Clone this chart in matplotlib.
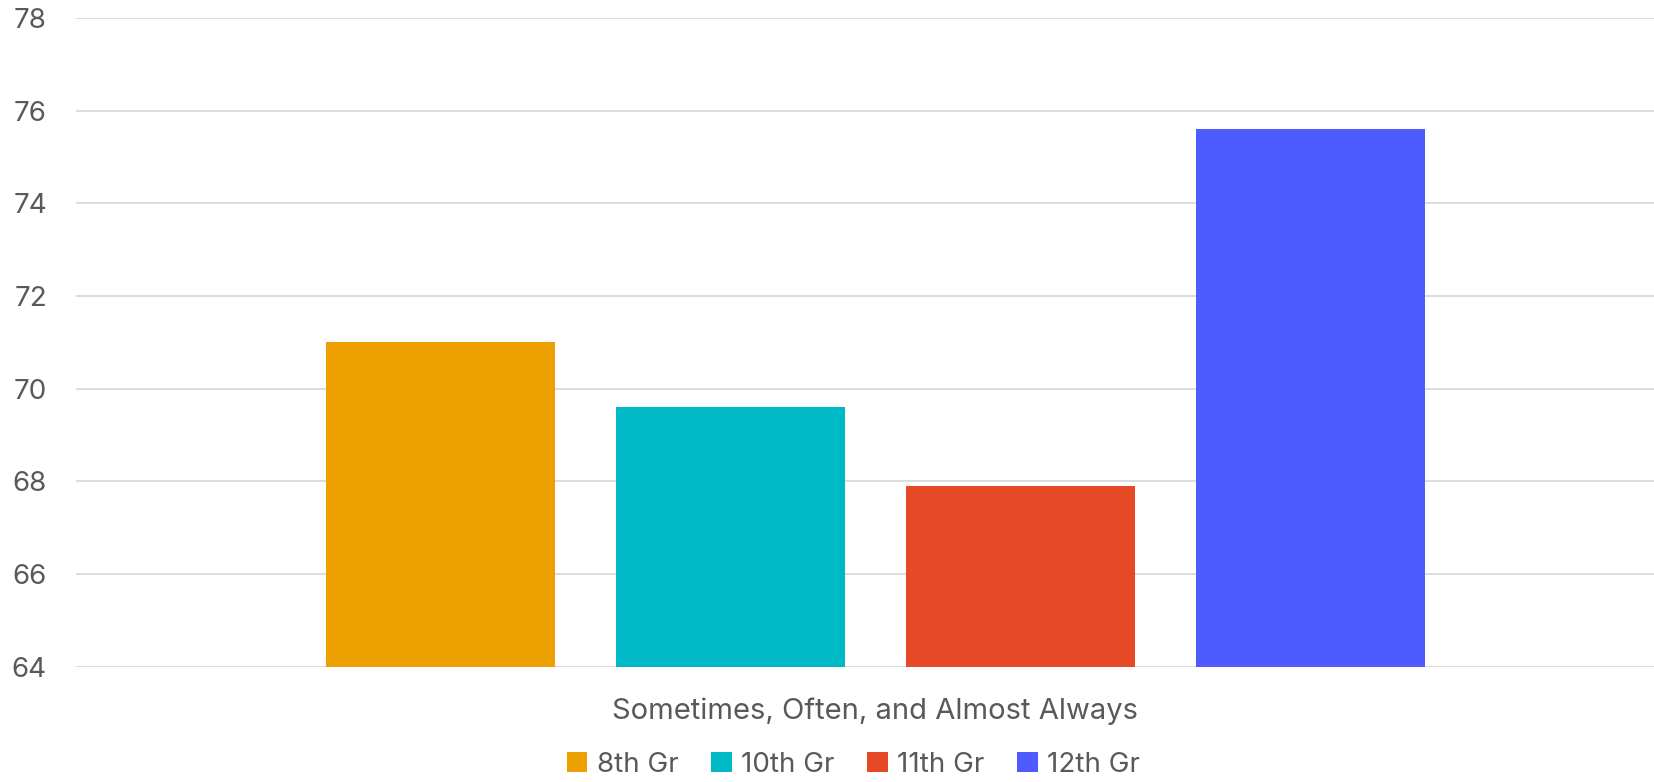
import matplotlib
matplotlib.use('Agg')
import matplotlib.pyplot as plt

category = 'Sometimes, Often, and Almost Always'
grades = ['8th Gr', '10th Gr', '11th Gr', '12th Gr']
values = [71.0, 69.6, 67.9, 75.6]
colors = ['#ECA100', '#00B9C6', '#E64925', '#4E5BFF']
yticks = [64, 66, 68, 70, 72, 74, 76, 78]

plt.rcParams['font.family'] = ['Inter', 'DejaVu Sans']

fig = plt.figure(figsize=(16.54, 7.82), dpi=100)
ax = fig.add_axes([0.046, 0.1474, 0.954, 0.8297])

for i, (g, v, c) in enumerate(zip(grades, values, colors)):
    ax.bar(i, v, width=0.79, color=c, label=g, zorder=2)

ax.set_ylim(64, 78)
ax.set_xlim(-1.256, 4.184)
ax.set_yticks(yticks)
ax.set_yticklabels([str(t) for t in yticks], fontsize=20, color='#595959')
ax.set_xticks([1.5])
ax.set_xticklabels([category], fontsize=21, color='#595959')
ax.tick_params(axis='y', length=0, pad=21)
ax.tick_params(axis='x', length=0, pad=22)
ax.grid(axis='y', color='#D9D9D9', linewidth=1.3, zorder=0)
for s in ax.spines.values():
    s.set_visible(False)

fig.legend(loc='center', bbox_to_anchor=(0.516, 0.022), ncol=4, frameon=False,
           fontsize=20, labelcolor='#595959', handlelength=0.75, handleheight=0.75,
           handletextpad=0.35, columnspacing=1.15)

fig.savefig('out.png', dpi=100)
